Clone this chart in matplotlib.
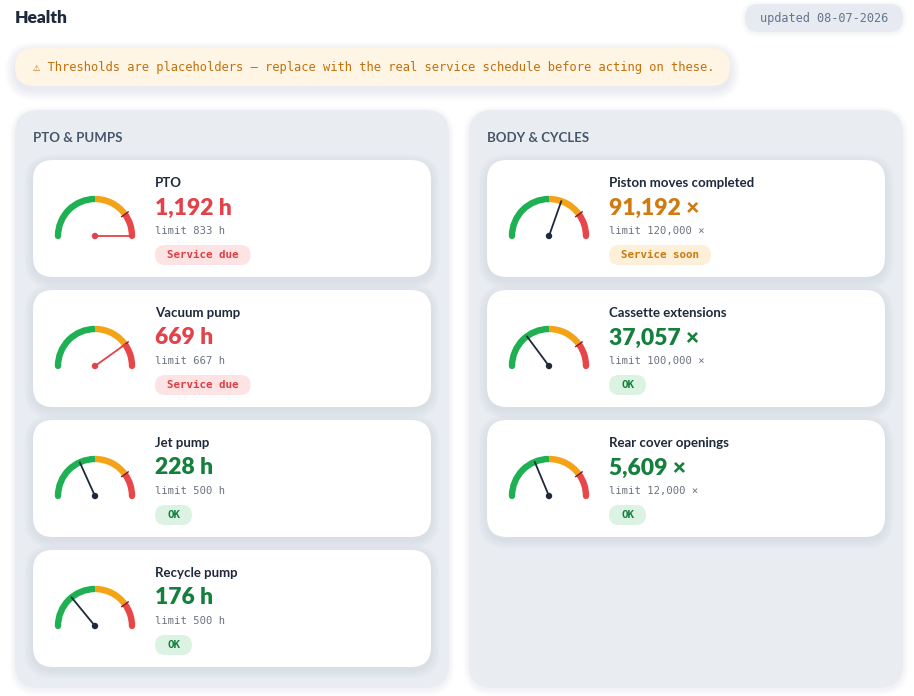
import numpy as np
import matplotlib
matplotlib.use("Agg")
import matplotlib.pyplot as plt
from matplotlib.patches import FancyBboxPatch, Circle, Arc

# data
left_title = "PTO & PUMPS"
left_names = ["PTO", "Vacuum pump", "Jet pump", "Recycle pump"]
left_values = [1192, 669, 228, 176]
left_limits = [833, 667, 500, 500]
left_unit = "h"

right_title = "BODY & CYCLES"
right_names = ["Piston moves completed", "Cassette extensions", "Rear cover openings"]
right_values = [91192, 37057, 5609]
right_limits = [120000, 100000, 12000]
right_unit = "×"

updated = "updated 08-07-2026"
warning = "⚠ Thresholds are placeholders — replace with the real service schedule before acting on these."

# gauge bands as fraction of gauge max (limit sits at 0.8)
BANDS = [(0.0, 0.5, "#1eb053"), (0.5, 0.8, "#f5a316"), (0.8, 1.0, "#e8474a")]
LIMIT_FRAC = 0.8

STATUS = {
    "due": dict(text="Service due", fg="#dc3f42", bg="#fde3e3", value="#e2434a"),
    "soon": dict(text="Service soon", fg="#c97a12", bg="#fdefd8", value="#d07a12"),
    "ok": dict(text="OK", fg="#15803d", bg="#dcf3e3", value="#15803d"),
}

SANS = ["Lato", "DejaVu Sans"]
MONO = ["DejaVu Sans Mono", "DejaVu Sans"]

fig = plt.figure(figsize=(9.14, 6.96), dpi=100)
ax = fig.add_axes([0, 0, 1, 1])
ax.set_xlim(0, 914)
ax.set_ylim(696, 0)
ax.axis("off")


def rbox(x, y, w, h, r, color, z=1, alpha=1.0):
    p = FancyBboxPatch((x, y), w, h, boxstyle=f"round,pad=0,rounding_size={r}",
                       facecolor=color, edgecolor="none", zorder=z, alpha=alpha)
    ax.add_patch(p)


def shadow(x, y, w, h, r, z, steps=7, dy=4, alpha=0.018):
    for i in range(steps):
        g = 1.5 * i + 1
        rbox(x - g, y - g + dy, w + 2 * g, h + 2 * g, r + g, "#334155", z, alpha)


def fmt(v):
    return f"{v:,}"


def status_of(v, lim):
    ratio = v / lim
    if ratio >= 1:
        return "due"
    if ratio >= 0.75:
        return "soon"
    return "ok"


def gauge(cx, cy, v, lim, needle_color):
    r = 37
    for a, b, c in BANDS:
        ax.add_patch(Arc((cx, cy), 2 * r, 2 * r, theta1=-(1 - a) * 180, theta2=-(1 - b) * 180,
                         lw=4.6, color=c, zorder=5))
    # round end caps (y axis is flipped, so angles are mirrored)
    ax.add_patch(Circle((cx - r, cy), 3.1, color=BANDS[0][2], zorder=5, lw=0))
    ax.add_patch(Circle((cx + r, cy), 3.1, color=BANDS[-1][2], zorder=5, lw=0))
    t = np.pi * (1 - LIMIT_FRAC)
    ax.plot([cx + (r - 4) * np.cos(t), cx + (r + 4) * np.cos(t)],
            [cy - (r - 4) * np.sin(t), cy - (r + 4) * np.sin(t)],
            color="#7f1d1d", lw=1.0, zorder=6)
    frac = min(v / lim * LIMIT_FRAC, 1.0)
    a = np.pi * (1 - frac)
    ax.plot([cx, cx + r * np.cos(a)], [cy, cy - r * np.sin(a)],
            color=needle_color, lw=1.3, zorder=7, solid_capstyle="round")
    ax.add_patch(Circle((cx, cy), 3.2, color=needle_color, zorder=8, lw=0))


def card(x, y, name, v, lim, unit):
    w, h = 398, 117
    shadow(x, y, w, h, 20, 3, steps=6, dy=3, alpha=0.012)
    rbox(x, y, w, h, 20, "white", 4)
    st = STATUS[status_of(v, lim)]
    needle = "#e2434a" if status_of(v, lim) == "due" else "#1e293b"
    gauge(x + 62, y + 76, v, lim, needle)
    tx = x + 122
    ax.text(tx, y + 23, name, family=SANS, fontsize=9.5, fontweight="bold",
            color="#1e293b", va="center", ha="left", zorder=9)
    ax.text(tx, y + 48, f"{fmt(v)} {unit}", family=SANS, fontsize=16.5, fontweight="heavy",
            color=st["value"], va="center", ha="left", zorder=9)
    ax.text(tx, y + 71, f"limit {fmt(lim)} {unit}", family=MONO, fontsize=7.6,
            color="#6b7280", va="center", ha="left", zorder=9)
    bw = len(st["text"]) * 6.5 + 24
    rbox(tx, y + 85, bw, 20, 10, st["bg"], 5)
    ax.text(tx + bw / 2, y + 95.5, st["text"], family=MONO, fontsize=7.8, fontweight="bold",
            color=st["fg"], va="center", ha="center", zorder=9)


def panel(x, title, names, values, limits, unit):
    y, w, h = 110, 434, 578
    shadow(x, y, w, h, 24, 1, steps=4, dy=2, alpha=0.01)
    rbox(x, y, w, h, 24, "#e9ecf1", 2)
    ax.text(x + 18, 138, title, family=SANS, fontsize=9.5, fontweight="bold",
            color="#475569", va="center", ha="left", zorder=9)
    for i, (n, v, lim) in enumerate(zip(names, values, limits)):
        card(x + 18, 160 + 130 * i, n, v, lim, unit)


# header
ax.text(15, 18, "Health", family=SANS, fontsize=12.5, fontweight="heavy",
        color="#1e293b", va="center", ha="left")
shadow(745, 4, 158, 28, 14, 1, steps=3, dy=1, alpha=0.015)
rbox(745, 4, 158, 28, 14, "#e7eaf0", 2)
ax.text(824, 18.5, updated, family=MONO, fontsize=8.6, color="#64748b",
        va="center", ha="center", zorder=3)

# warning banner
shadow(15, 48, 715, 38, 19, 1, steps=7, dy=4, alpha=0.012)
rbox(15, 48, 715, 38, 19, "#fff5e5", 2)
ax.text(33, 67.5, warning, family=MONO, fontsize=8.7, color="#c2700c",
        va="center", ha="left", zorder=3)

panel(15, left_title, left_names, left_values, left_limits, left_unit)
panel(469, right_title, right_names, right_values, right_limits, right_unit)

fig.savefig("out.png", dpi=100, facecolor="white")
